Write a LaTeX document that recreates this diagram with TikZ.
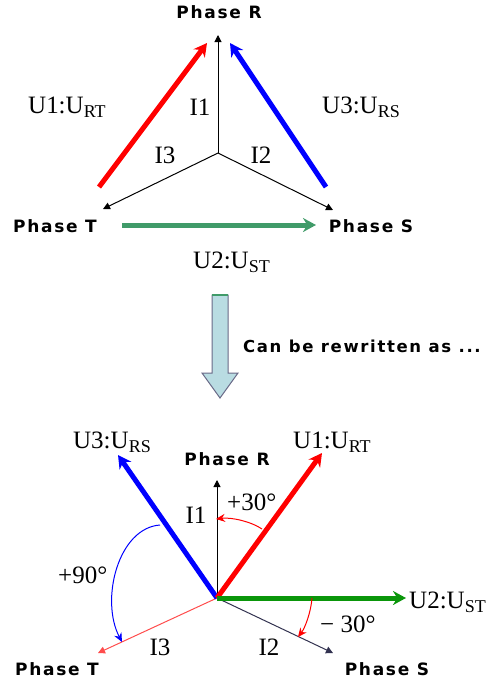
\documentclass[tikz,border=0pt]{standalone}
\usepackage{fontspec}
\setmainfont{Liberation Serif}
\newfontfamily\phasefont[LetterSpace=10]{DejaVu Sans}
\usepackage{xcolor}
\usepackage{tikz}
\usetikzlibrary{arrows.meta}
\definecolor{phRed}{RGB}{255,  0,  0}
\definecolor{phBlue}{RGB}{  0,  0,255}
\definecolor{phSea}{RGB}{ 64,155,105}
\definecolor{phGreen}{RGB}{ 10,150, 10}
\definecolor{phSlate}{RGB}{ 50, 50, 80}
\definecolor{phPale}{RGB}{185,220,226}
\definecolor{phGrey}{RGB}{105,105,135}
\newcommand\lsub[1]{\raisebox{-4pt}{\fontsize{18}{18}\selectfont #1}}

\begin{document}
\begin{tikzpicture}[x=1pt, y=-1pt,
    phase/.style={font=\phasefont\bfseries\fontsize{17}{20}\selectfont, inner sep=0pt},
    note/.style={font=\phasefont\bfseries\fontsize{16.5}{20}\selectfont, inner sep=0pt},
    lab/.style={font=\fontsize{25}{28}\selectfont, inner sep=0pt},
    wire/.style={line width=1pt, -{Triangle[length=7pt, width=7pt]}},
    volt/.style={line width=5pt, -{Stealth[length=13pt, width=14pt]}},
    turn/.style={line width=1pt, -{Stealth[length=9pt, width=8pt]}}
  ]
  \useasboundingbox (0,0) rectangle (492,681);

  % star of phase currents
  \coordinate (O) at (218,153);
  \coordinate (tR) at (218,35);
  \coordinate (tS) at (333,210);
  \coordinate (tT) at (103,209);
  \foreach \t in {tR,tS,tT} {
    \draw[wire] (O) -- (\t);
  }
  \node[phase, anchor=base] (phR) at (219,18) {Phase R};
  \node[phase, anchor=base] (phT) at (55,232) {Phase T};
  \node[phase, anchor=base] (phS) at (371,232) {Phase S};
  \foreach \n/\x/\y/\v in {i1/200/115/1, i3/165/163/3, i2/261/163/2} {
    \node[lab, anchor=base] (\n) at (\x,\y) {I\v};
  }

  % line voltages
  \coordinate (rA) at (99,187);  \coordinate (rB) at (207,43);
  \coordinate (bA) at (326,187); \coordinate (bB) at (230,43);
  \coordinate (gA) at (122,225); \coordinate (gB) at (316,225);
  \draw[volt, phRed] (rA) -- (rB);
  \draw[volt, phBlue] (bA) -- (bB);
  \draw[volt, phSea] (gA) -- (gB);
  \node[lab, anchor=base west] (u1) at (28,113) {U1:U\lsub{RT}};
  \node[lab, anchor=base west] (u3) at (322,113) {U3:U\lsub{RS}};
  \node[lab, anchor=base west] (u2) at (193,268) {U2:U\lsub{ST}};

  % rewrite arrow
  \draw[draw=phGrey, fill=phPale, line width=1pt]
       (212,295) -- (212,373) -- (202,373) -- (220,398) -- (238,373)
       -- (228,373) -- (228,295) -- cycle;
  \draw[phSea, line width=1.5pt] (212,295) -- (228,295);
  \node[note, anchor=base west] (rw) at (243,352) {Can be rewritten as ...};

  % phasor picture
  \coordinate (P) at (217,598);
  \coordinate (pR) at (217,480);
  \coordinate (pS) at (333,653);
  \coordinate (pT) at (98,653);
  \draw[wire] (P) -- (pR);
  \draw[wire, phSlate] (P) -- (pS);
  \draw[wire, phRed!70] (P) -- (pT);
  \coordinate (vB) at (118,455);
  \coordinate (vR) at (322,453);
  \coordinate (vG) at (406,598);
  \draw[volt, phBlue] (P) -- (vB);
  \draw[volt, phRed] (P) -- (vR);
  \draw[volt, phGreen] (P) -- (vG);

  % phase shifts
  \coordinate (a1) at (262,529); \coordinate (e1) at (216,519);
  \coordinate (a2) at (160,525); \coordinate (e2) at (122,642);
  \coordinate (a3) at (312,598); \coordinate (e3) at (298,637);
  \draw[turn, phRed] (a1) .. controls (252,522) and (232,517) .. (e1);
  \draw[turn, phBlue] (a2) .. controls (118,528) and (100,600) .. (e2);
  \draw[turn, phRed] (a3) .. controls (311,612) and (305,628) .. (e3);

  \node[phase, anchor=base] (qR) at (227,465) {Phase R};
  \node[phase, anchor=base] (qT) at (57,675) {Phase T};
  \node[phase, anchor=base] (qS) at (387,675) {Phase S};
  \node[lab, anchor=base west] (w3) at (73,448) {U3:U\lsub{RS}};
  \node[lab, anchor=base west] (w1) at (293,448) {U1:U\lsub{RT}};
  \node[lab, anchor=base west] (w2) at (409,608) {U2:U\lsub{ST}};
  \node[lab, anchor=base] (j1) at (196,523) {I1};
  \node[lab, anchor=base] (j3) at (160,655) {I3};
  \node[lab, anchor=base] (j2) at (269,655) {I2};
  \node[lab, anchor=base west] (d30) at (227,510) {+30°};
  \node[lab, anchor=base west] (d90) at (58,583) {+90°};
  \node[lab, anchor=base west] (m30) at (320,632) {− 30°};
\end{tikzpicture}
\end{document}
